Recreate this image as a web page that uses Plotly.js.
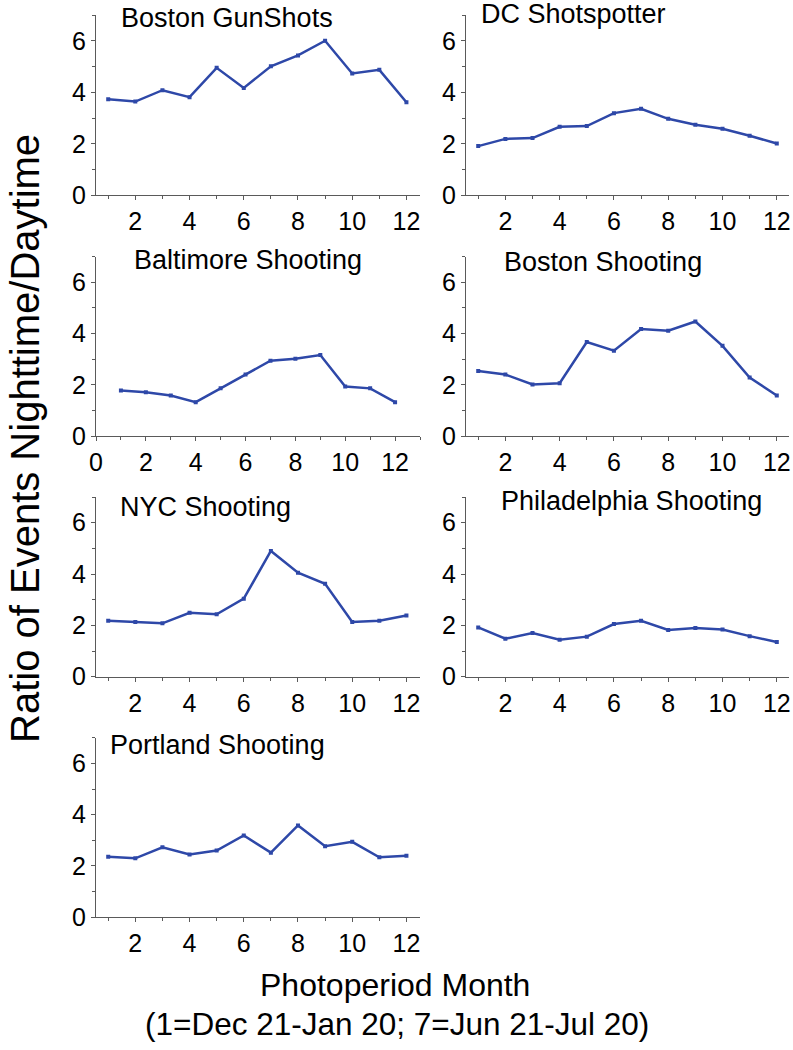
<!DOCTYPE html>
<html>
<head>
<meta charset="utf-8">
<script src="https://cdn.plot.ly/plotly-3.0.1.min.js"></script>
<style>html,body{margin:0;padding:0;background:#fff;}#chart{width:793px;height:1050px;}</style>
</head>
<body>
<div id="chart"></div>
<script>
// ---- data ----
const months = [1,2,3,4,5,6,7,8,9,10,11,12];
const panelTitles = ["Boston GunShots","DC Shotspotter","Baltimore Shooting","Boston Shooting","NYC Shooting","Philadelphia Shooting","Portland Shooting"];
const bostonGunShots   = [3.73,3.64,4.08,3.81,4.95,4.17,5.01,5.43,6.00,4.73,4.87,3.61];
const dcShotspotter    = [1.91,2.19,2.22,2.66,2.69,3.19,3.36,2.97,2.74,2.58,2.31,2.01];
const baltimoreShoot   = [1.78,1.71,1.58,1.32,1.86,2.40,2.94,3.02,3.16,1.93,1.86,1.32];
const bostonShoot      = [2.54,2.40,2.01,2.06,3.67,3.33,4.18,4.11,4.47,3.52,2.28,1.58];
const nycShoot         = [2.18,2.13,2.08,2.49,2.43,3.04,4.90,4.05,3.62,2.13,2.18,2.38];
const philadelphiaShoot= [1.92,1.48,1.70,1.44,1.56,2.05,2.18,1.82,1.90,1.84,1.58,1.35];
const portlandShoot    = [2.36,2.30,2.73,2.45,2.60,3.19,2.52,3.58,2.77,2.94,2.34,2.40];
const xTitle1 = "Photoperiod Month";
const xTitle2 = "(1=Dec 21-Jan 20; 7=Jun 21-Jul 20)";
const yTitle = "Ratio of Events Nighttime/Daytime";

const series = [bostonGunShots, dcShotspotter, baltimoreShoot, bostonShoot, nycShoot, philadelphiaShoot, portlandShoot];

// ---- layout geometry (pixels) ----
const W = 793, H = 1050;
const colX = [[96,420],[466,789]];
const rowY = [[15,195.3],[256.7,436],[497,676.7],[737.7,917.3]]; // top, bottom (px)
const titlePos = [[226.5,18],[573,13.5],[248,260],[603.3,262],[205.5,507],[631.3,501],[218,745]];
const xRanges = [[0.55,12.5],[0.55,12.45],[0,13],[0.55,12.45],[0.55,12.5],[0.55,12.45],[0.55,12.5]];

const FONT = "Liberation Sans, Arial, Helvetica, sans-serif";
const lineColor = "rgb(46,72,168)";
const axisColor = "#5a5a5a";

const traces = [];
const layout = {
  width: W, height: H,
  margin: {l:0, r:0, t:0, b:0},
  paper_bgcolor: "#fff", plot_bgcolor: "#fff",
  showlegend: false,
  font: {family: FONT, color: "#000"},
  annotations: []
};

series.forEach((ys, i) => {
  const n = i + 1;
  const suffix = n === 1 ? "" : String(n);
  const col = i % 2, row = Math.floor(i / 2);
  traces.push({
    x: months, y: ys, type: "scatter", mode: "lines+markers",
    xaxis: "x" + suffix, yaxis: "y" + suffix,
    line: {color: lineColor, width: 2.5},
    marker: {symbol: "square", size: 4, color: lineColor},
    hoverinfo: "x+y"
  });
  const axCommon = {
    showline: true, linecolor: axisColor, linewidth: 1,
    ticks: "outside", ticklen: 4, tickwidth: 1, tickcolor: axisColor,
    showgrid: false, zeroline: false,
    tickfont: {family: FONT, size: 25, color: "#000"},
    minor: {dtick: 1, ticks: "outside", ticklen: 3, tickcolor: axisColor, showgrid: false}
  };
  layout["xaxis" + suffix] = Object.assign({}, axCommon, {
    domain: [colX[col][0] / W, colX[col][1] / W],
    range: xRanges[i], tick0: 0, dtick: 2,
    anchor: "y" + suffix,
    minor: Object.assign({}, axCommon.minor, {tick0: 0})
  });
  layout["yaxis" + suffix] = Object.assign({}, axCommon, {
    domain: [1 - rowY[row][1] / H, 1 - rowY[row][0] / H],
    range: [0, 7], tick0: 0, dtick: 2,
    anchor: "x" + suffix
  });
  layout.annotations.push({
    text: panelTitles[i], xref: "paper", yref: "paper",
    x: titlePos[i][0] / W, y: 1 - titlePos[i][1] / H,
    xanchor: "center", yanchor: "middle", showarrow: false,
    font: {family: FONT, size: 27, color: "#000"}
  });
});

layout.annotations.push({
  text: yTitle, xref: "paper", yref: "paper",
  x: 25 / W, y: 1 - 439 / H, xanchor: "center", yanchor: "middle",
  textangle: -90, showarrow: false,
  font: {family: FONT, size: 40, color: "#000"}
});
layout.annotations.push({
  text: xTitle1, xref: "paper", yref: "paper",
  x: 395 / W, y: 1 - 985 / H, xanchor: "center", yanchor: "middle",
  showarrow: false, font: {family: FONT, size: 32, color: "#000"}
});
layout.annotations.push({
  text: xTitle2, xref: "paper", yref: "paper",
  x: 397 / W, y: 1 - 1024 / H, xanchor: "center", yanchor: "middle",
  showarrow: false, font: {family: FONT, size: 31.5, color: "#000"}
});

Plotly.newPlot("chart", traces, layout, {staticPlot: true, displayModeBar: false});
</script>
</body>
</html>
